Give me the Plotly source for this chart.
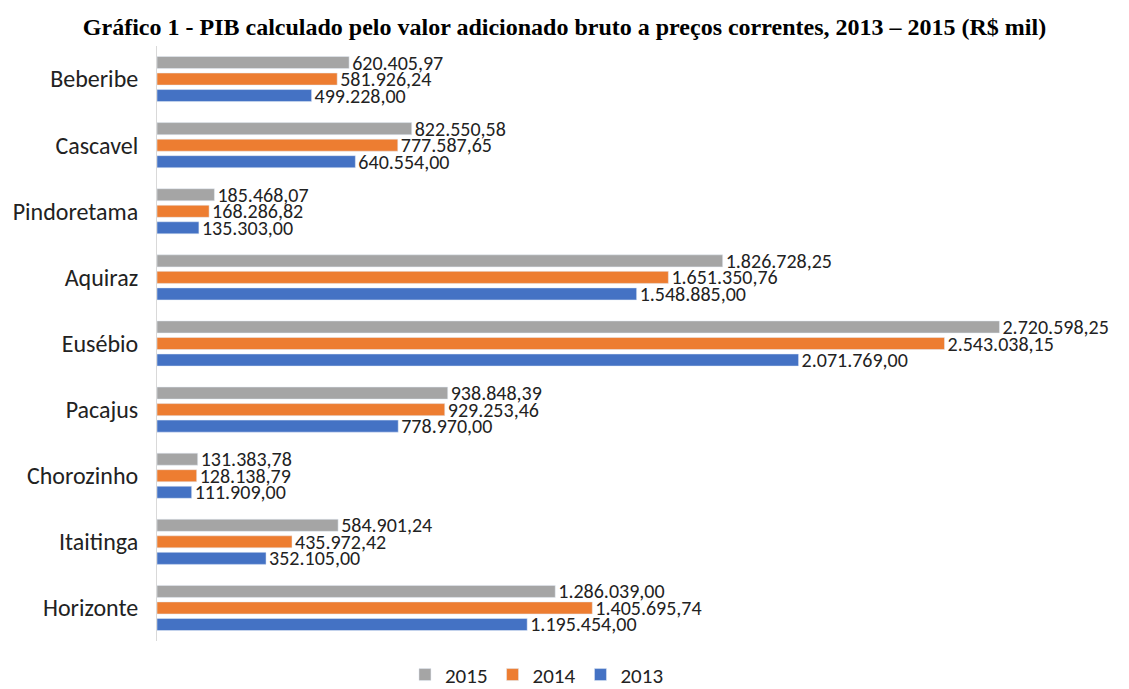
import plotly.graph_objects as go

categories = ["Beberibe", "Cascavel", "Pindoretama", "Aquiraz", "Eusébio",
              "Pacajus", "Chorozinho", "Itaitinga", "Horizonte"]
v2015 = [620405.97, 822550.58, 185468.07, 1826728.25, 2720598.25,
         938848.39, 131383.78, 584901.24, 1286039.00]
v2014 = [581926.24, 777587.65, 168286.82, 1651350.76, 2543038.15,
         929253.46, 128138.79, 435972.42, 1405695.74]
v2013 = [499228.00, 640554.00, 135303.00, 1548885.00, 2071769.00,
         778970.00, 111909.00, 352105.00, 1195454.00]
series = [("2015", v2015, "#A5A5A5"), ("2014", v2014, "#ED7D31"), ("2013", v2013, "#4472C4")]

def br(v):
    s = f"{v:,.2f}"
    return s.replace(",", "X").replace(".", ",").replace("X", ".")

FONT = "Carlito, 'Liberation Sans Narrow', 'Open Sans', Arial, sans-serif"

fig = go.Figure()
for name, vals, col in series:
    fig.add_trace(go.Bar(
        y=categories, x=vals, name=name, orientation="h",
        marker=dict(color=col),
        text=[br(v) for v in vals], textposition="outside",
        constraintext="none",
        textfont=dict(size=20, color="#222222", family=FONT),
        cliponaxis=False,
    ))

fig.update_layout(
    width=1129, height=689,
    margin=dict(l=157, r=43, t=46, b=48, autoexpand=False),
    paper_bgcolor="white", plot_bgcolor="white",
    barmode="group", bargap=0.25, bargroupgap=0.27,
    title=dict(text="<b>Gráfico 1 - PIB calculado pelo valor adicionado bruto a preços correntes, 2013 – 2015 (R$ mil)</b>",
               x=0.5, xanchor="center", y=0.962, yanchor="middle",
               font=dict(family="'Liberation Serif', 'Times New Roman', serif", size=24, color="black")),
    xaxis=dict(range=[0, 3000000], showgrid=False, showticklabels=False, zeroline=False,
               showline=False, ticks=""),
    yaxis=dict(autorange="reversed", showgrid=False, showline=True, linecolor="#D9D9D9",
               linewidth=1, ticks="", ticklabelstandoff=13,
               tickfont=dict(family=FONT, size=24, color="#222222")),
    legend=dict(orientation="h", x=0.409, xanchor="center", y=-0.057, yanchor="middle",
                font=dict(family=FONT, size=21, color="#222222"), itemwidth=30),
    showlegend=True,
)

fig.write_html("out.html")
